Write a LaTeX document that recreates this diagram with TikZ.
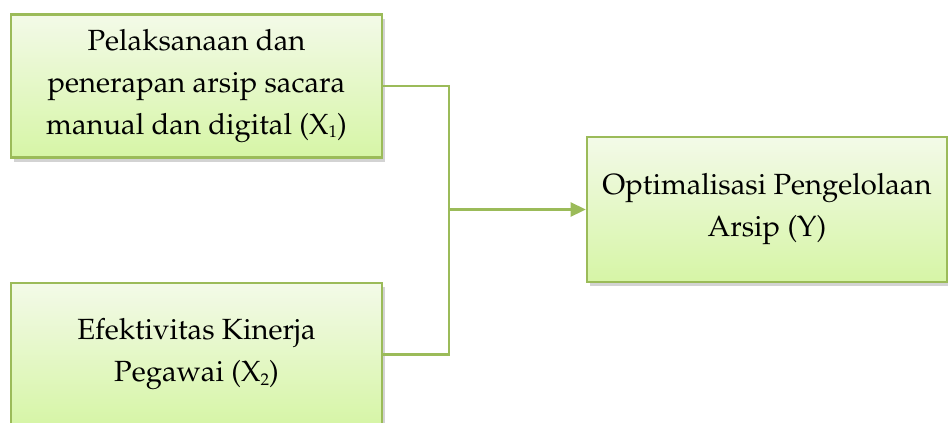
\documentclass[tikz,border=0pt]{standalone}
\usepackage[T1]{fontenc}
\usepackage{mathpazo}
\usetikzlibrary{arrows.meta,shadows}
\definecolor{olivegr}{HTML}{9BBB59}
\definecolor{boxtop}{HTML}{F3FAE8}
\definecolor{boxbot}{HTML}{D6F5A6}
\tikzset{
  varbox/.style={draw=olivegr,line width=1.3pt,top color=boxtop,bottom color=boxbot,
    drop shadow={shadow xshift=1.5pt,shadow yshift=-2pt,opacity=.35},
    align=center,inner sep=0pt,font=\fontsize{14.6}{21}\selectfont},
  link/.style={draw=olivegr,line width=1.3pt}
}
\newcommand{\lowsub}[1]{\raisebox{-.25ex}{\fontsize{8.5}{9}\selectfont#1}}
\begin{document}
\begin{tikzpicture}[x=.5pt,y=-.5pt]
  \useasboundingbox (0,0) rectangle (948,423);
  \begin{scope}
    \clip (0,0) rectangle (948,423);
    \node[varbox,minimum width=185.5pt,minimum height=71.5pt] (x1) at (196.5,86)
      {Pelaksanaan dan\\penerapan arsip sacara\\manual dan digital (X\lowsub{1})};
    \node[varbox,minimum width=185.5pt,minimum height=71.5pt] (x2) at (196.5,354.5)
      {Efektivitas Kinerja\\Pegawai (X\lowsub{2})};
    \node[varbox,minimum width=180pt,minimum height=72.5pt] (y) at (767,209.5)
      {Optimalisasi Pengelolaan\\Arsip (Y)};
    \coordinate (j) at (449,0);
    \draw[link] (x1.east) -- (x1.east -| j) -- (x2.east -| j) -- (x2.east);
    \draw[link,-{Triangle[length=7.5pt,width=7pt]}] (j |- y.west) -- (y.west);
  \end{scope}
\end{tikzpicture}
\end{document}
